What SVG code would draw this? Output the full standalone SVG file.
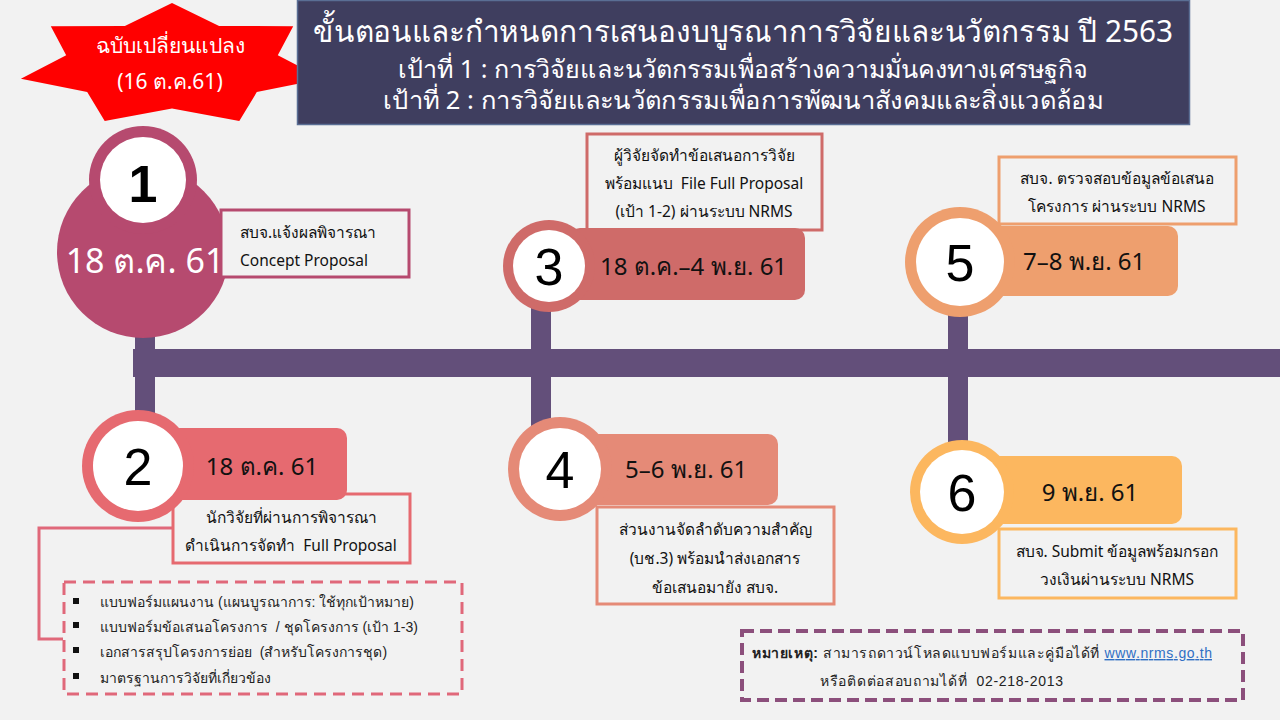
<svg xmlns="http://www.w3.org/2000/svg" width="1280" height="720" viewBox="0 0 1280 720">
<defs>
<style>
text{font-family:"Noto Sans","DejaVu Sans",sans-serif;}
.hd{fill:#ffffff;text-anchor:middle;}
.num{font-size:52px;fill:#000;text-anchor:middle;font-family:"Liberation Sans",sans-serif;}
.date{font-size:24px;fill:#111;}
.box{fill:#f2f2f2;stroke-width:3;}
.bt{font-size:15.500px;fill:#111;text-anchor:middle;}
.li{font-size:14px;fill:#222;font-family:"Liberation Sans","Noto Sans",sans-serif;}
.stem{stroke:#634f7a;stroke-width:20;fill:none;}
</style>
</defs>
<rect width="1280" height="720" fill="#f2f2f2"/>

<g id="badge">
<polygon points="172,3 219.100,25.900 293.200,26.300 277.800,55.300 323.100,78.800 256.800,92.100 239.300,120.900 172,108.400 104.700,120.900 87.200,92.100 20.900,78.800 66.200,55.300 50.800,26.300 124.900,25.900" fill="#ff0000"/>
<text x="170" y="53" font-size="21" class="hd">ฉบับเปลี่ยนแปลง</text>
<text x="170" y="89" font-size="21" class="hd">(16 ต.ค.61)</text>
</g>

<g id="header">
<rect x="297.500" y="0.500" width="892" height="124" fill="#3f3e5f" stroke="#5a6e94" stroke-width="1.500"/>
<text x="743" y="42" font-size="30" class="hd" textLength="860" lengthAdjust="spacingAndGlyphs">ขั้นตอนและกำหนดการเสนองบบูรณาการวิจัยและนวัตกรรม ปี 2563</text>
<text x="743" y="78" font-size="25" class="hd" textLength="690" lengthAdjust="spacingAndGlyphs">เป้าที่ 1 : การวิจัยและนวัตกรรมเพื่อสร้างความมั่นคงทางเศรษฐกิจ</text>
<text x="743" y="109" font-size="25" class="hd" textLength="720" lengthAdjust="spacingAndGlyphs">เป้าที่ 2 : การวิจัยและนวัตกรรมเพื่อการพัฒนาสังคมและสิ่งแวดล้อม</text>
</g>

<g id="connectors">
<rect x="133" y="349" width="1147" height="28" fill="#634f7a"/>
<line class="stem" x1="145" y1="320" x2="145" y2="425"/>
<line class="stem" x1="541" y1="295" x2="541" y2="430"/>
<line class="stem" x1="958" y1="295" x2="958" y2="450"/>
<polyline points="175,528 39,528 39,639 63,639" fill="none" stroke="#e0687a" stroke-width="3"/>
</g>

<g id="node1">
<circle cx="143" cy="252" r="86" fill="#b64a6f"/>
<circle cx="143" cy="180" r="54" fill="#b64a6f"/>
<circle cx="143" cy="180" r="43" fill="#ffffff"/>
<text x="143" y="202" class="num" font-weight="bold" font-size="58">1</text>
<text x="145" y="273" font-size="34" fill="#ffffff" text-anchor="middle">18 ต.ค. 61</text>
<rect x="221" y="210" width="188" height="67" class="box" stroke="#b64a6f"/>
<text x="240" y="238" font-size="15.500" fill="#111">สบจ.แจ้งผลพิจารณา</text>
<text x="240" y="266" font-size="15.500" fill="#111">Concept Proposal</text>
</g>

<g id="node2">
<rect x="173" y="494" width="237" height="69" class="box" stroke="#e66a70"/>
<rect x="170" y="428" width="177" height="72" rx="10" fill="#e66a70"/>
<circle cx="138" cy="466" r="56" fill="#e66a70"/>
<circle cx="138" cy="466" r="45" fill="#ffffff"/>
<text x="138" y="485" class="num">2</text>
<text x="262" y="475" class="date" text-anchor="middle">18 ต.ค. 61</text>
<text x="291" y="523" class="bt">นักวิจัยที่ผ่านการพิจารณา</text>
<text x="291" y="551" class="bt">ดำเนินการจัดทำ&#160; Full Proposal</text>
</g>

<g id="node3">
<rect x="587" y="134" width="235" height="96" class="box" stroke="#cf6b69"/>
<rect x="570" y="228" width="235" height="72" rx="10" fill="#cf6b69"/>
<circle cx="549" cy="266" r="46" fill="#cf6b69"/>
<circle cx="549" cy="266" r="36" fill="#ffffff"/>
<text x="549" y="285" class="num">3</text>
<text x="600" y="275" class="date">18 ต.ค.–4 พ.ย. 61</text>
<text x="704" y="161" class="bt">ผู้วิจัยจัดทำข้อเสนอการวิจัย</text>
<text x="704" y="189" class="bt">พร้อมแนบ&#160; File Full Proposal</text>
<text x="704" y="217" class="bt">(เป้า 1-2) ผ่านระบบ NRMS</text>
</g>

<g id="node4">
<rect x="597" y="507" width="237" height="97" class="box" stroke="#e58a77"/>
<rect x="580" y="434" width="198" height="71" rx="10" fill="#e58a77"/>
<circle cx="560" cy="469" r="52" fill="#e58a77"/>
<circle cx="560" cy="469" r="41" fill="#ffffff"/>
<text x="560" y="488" class="num">4</text>
<text x="625" y="478" class="date">5–6 พ.ย. 61</text>
<text x="715" y="535" class="bt">ส่วนงานจัดลำดับความสำคัญ</text>
<text x="715" y="564" class="bt">(บช.3) พร้อมนำส่งเอกสาร</text>
<text x="715" y="593" class="bt">ข้อเสนอมายัง สบจ.</text>
</g>

<g id="node5">
<rect x="999" y="157" width="237" height="67" class="box" stroke="#ee9f6e"/>
<rect x="985" y="226" width="193" height="70" rx="10" fill="#ee9f6e"/>
<circle cx="960" cy="262" r="55" fill="#ee9f6e"/>
<circle cx="960" cy="262" r="44" fill="#ffffff"/>
<text x="960" y="281" class="num">5</text>
<text x="1023" y="270" class="date">7–8 พ.ย. 61</text>
<text x="1117" y="184" class="bt">สบจ. ตรวจสอบข้อมูลข้อเสนอ</text>
<text x="1117" y="212" class="bt">โครงการ ผ่านระบบ NRMS</text>
</g>

<g id="node6">
<rect x="999" y="529" width="237" height="69" class="box" stroke="#fcb75f"/>
<rect x="985" y="456" width="197" height="68" rx="10" fill="#fcb75f"/>
<circle cx="962" cy="492" r="52" fill="#fcb75f"/>
<circle cx="962" cy="492" r="42" fill="#ffffff"/>
<text x="962" y="511" class="num">6</text>
<text x="1090" y="501" class="date" text-anchor="middle">9 พ.ย. 61</text>
<text x="1117" y="557" class="bt">สบจ. Submit ข้อมูลพร้อมกรอก</text>
<text x="1117" y="585" class="bt">วงเงินผ่านระบบ NRMS</text>
</g>

<g id="documents">
<rect x="64" y="582" width="398" height="112" fill="none" stroke="#e0687a" stroke-width="3" stroke-dasharray="12,7"/>
<rect x="73" y="598" width="6" height="6" fill="#111"/>
<rect x="73" y="622" width="6" height="6" fill="#111"/>
<rect x="73" y="647" width="6" height="6" fill="#111"/>
<rect x="73" y="673" width="6" height="6" fill="#111"/>
<text x="100" y="607" class="li">แบบฟอร์มแผนงาน (แผนบูรณาการ: ใช้ทุกเป้าหมาย)</text>
<text x="100" y="632" class="li">แบบฟอร์มข้อเสนอโครงการ&#160; / ชุดโครงการ (เป้า 1-3)</text>
<text x="100" y="657" class="li">เอกสารสรุปโครงการย่อย&#160; (สำหรับโครงการชุด)</text>
<text x="100" y="683" class="li">มาตรฐานการวิจัยที่เกี่ยวข้อง</text>
</g>

<g id="note">
<rect x="742" y="631" width="501" height="69" fill="none" stroke="#8c4f7c" stroke-width="4" stroke-dasharray="12,6"/>
<text x="752" y="658" class="li" font-size="16" textLength="460"><tspan font-weight="bold">หมายเหตุ:</tspan> สามารถดาวน์โหลดแบบฟอร์มและคู่มือได้ที่ <tspan fill="#2f6fc4" text-decoration="underline">www.nrms.go.th</tspan></text>
<text x="820" y="686" class="li" font-size="16" textLength="243">หรือติดต่อสอบถามได้ที่&#160; 02-218-2013</text>
</g>
</svg>
